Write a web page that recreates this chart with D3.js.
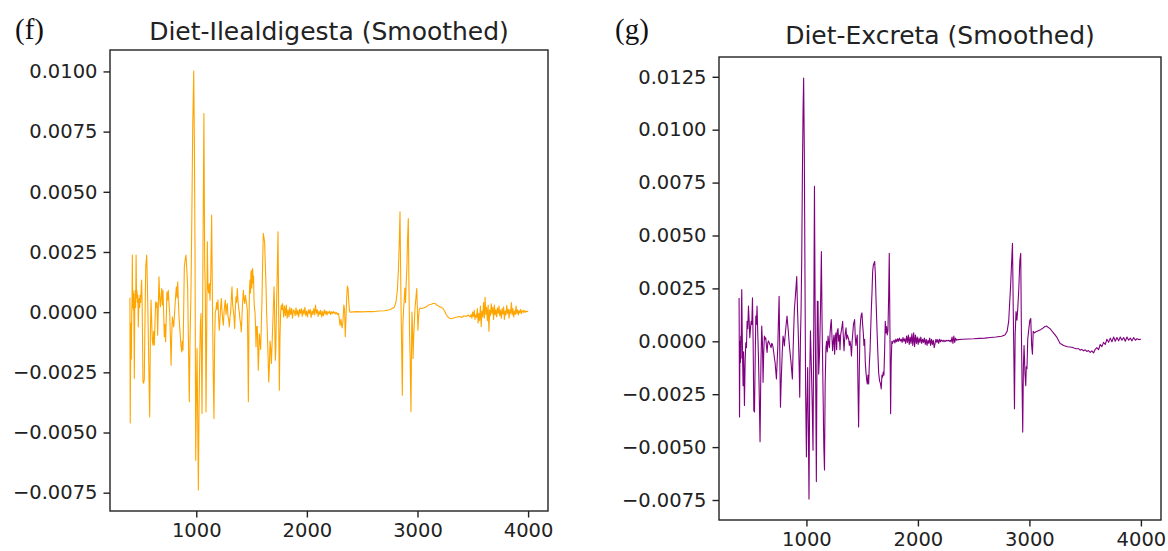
<!DOCTYPE html>
<html>
<head>
<meta charset="utf-8">
<script src="https://cdn.jsdelivr.net/npm/d3@7"></script>
<style>
  html, body { margin: 0; padding: 0; background: #fff; }
  svg { display: block; }
  .tick text { font-family: "DejaVu Sans", sans-serif; fill: #222; }
</style>
</head>
<body>
<svg id="fig" width="1168" height="551"></svg>
<script>
// Smoothed difference spectra (wavenumber in cm^-1, signal in absorbance units)
const ilealWavenumber = [
  400, 403, 407, 410, 413, 416, 419, 422, 425, 428, 431, 434, 437, 440, 444, 448, 452, 456, 460, 464,
  468, 472, 476, 480, 484, 488, 492, 497, 502, 506, 510, 514, 518, 524, 530, 536, 543, 552, 561, 570,
  579, 585, 591, 597, 603, 609, 615, 621, 627, 633, 639, 645, 651, 657, 663, 669, 675, 681, 687, 693,
  699, 705, 711, 717, 723, 729, 735, 741, 747, 753, 760, 766, 772, 778, 784, 790, 796, 802, 808, 814,
  820, 826, 832, 838, 844, 850, 856, 862, 868, 874, 880, 886, 892, 900, 907, 914, 922, 930, 937, 944,
  952, 960, 968, 977, 983, 989, 995, 1001, 1007, 1013, 1019, 1025, 1031, 1037, 1043, 1052, 1060, 1069, 1076, 1082,
  1088, 1094, 1100, 1106, 1112, 1118, 1124, 1131, 1139, 1146, 1153, 1160, 1166, 1172, 1178, 1184, 1190, 1196, 1202, 1208,
  1214, 1220, 1227, 1233, 1239, 1245, 1251, 1257, 1263, 1269, 1275, 1281, 1287, 1293, 1299, 1305, 1311, 1317, 1323, 1329,
  1335, 1341, 1347, 1353, 1359, 1365, 1371, 1377, 1383, 1389, 1395, 1401, 1407, 1413, 1419, 1426, 1432, 1438, 1444, 1450,
  1456, 1462, 1466, 1471, 1476, 1481, 1486, 1490, 1494, 1498, 1502, 1506, 1510, 1514, 1518, 1522, 1526, 1531, 1536, 1540,
  1546, 1552, 1556, 1561, 1565, 1570, 1576, 1582, 1588, 1594, 1600, 1606, 1612, 1618, 1624, 1630, 1636, 1643, 1649, 1655,
  1661, 1667, 1673, 1679, 1685, 1691, 1697, 1703, 1707, 1711, 1715, 1719, 1723, 1727, 1733, 1739, 1745, 1751, 1757, 1763,
  1769, 1775, 1781, 1790, 1798, 1806, 1814, 1822, 1830, 1838, 1846, 1854, 1862, 1870, 1878, 1886, 1894, 1902, 1910, 1918,
  1926, 1934, 1942, 1950, 1958, 1966, 1974, 1982, 1990, 1998, 2006, 2014, 2022, 2030, 2038, 2046, 2054, 2062, 2070, 2078,
  2086, 2094, 2102, 2110, 2118, 2126, 2134, 2142, 2150, 2158, 2166, 2174, 2182, 2190, 2198, 2206, 2214, 2222, 2230, 2238,
  2246, 2254, 2262, 2270, 2278, 2286, 2294, 2300, 2308, 2318, 2326, 2334, 2341, 2347, 2354, 2360, 2366, 2372, 2378, 2384,
  2390, 2396, 2450, 2500, 2550, 2600, 2650, 2700, 2750, 2790, 2805, 2818, 2828, 2836, 2842, 2847, 2852, 2857, 2863, 2868,
  2874, 2880, 2886, 2892, 2898, 2904, 2910, 2917, 2922, 2928, 2934, 2941, 2946, 2950, 2955, 2960, 2966, 2972, 2978, 2986,
  2993, 2998, 3004, 3010, 3016, 3024, 3040, 3060, 3080, 3100, 3120, 3140, 3158, 3170, 3185, 3200, 3215, 3230, 3245, 3260,
  3275, 3290, 3305, 3320, 3340, 3360, 3380, 3400, 3420, 3440, 3460, 3475, 3485, 3492, 3499, 3506, 3513, 3520, 3527, 3534,
  3541, 3548, 3555, 3562, 3569, 3576, 3583, 3590, 3597, 3604, 3611, 3618, 3625, 3632, 3639, 3646, 3653, 3660, 3667, 3674,
  3681, 3688, 3695, 3702, 3709, 3716, 3723, 3730, 3737, 3744, 3751, 3758, 3765, 3772, 3779, 3786, 3793, 3800, 3807, 3814,
  3821, 3828, 3835, 3842, 3849, 3856, 3863, 3870, 3877, 3884, 3891, 3898, 3905, 3912, 3919, 3926, 3933, 3940, 3947, 3954,
  3961, 3968, 3975, 3982, 3990, 4000
];
const ilealSignal = [
  0.00060, -0.00460, -0.00120, -0.00045, -0.00195, -0.00020, 0.00040, 0.00237, 0.00020, 0.00090, 0.00010, 0.00078, -0.00080, -0.00275, 0.00030, 0.00090, 0.00020, 0.00237, 0.00060, 0.00090,
  0.00040, 0.00070, -0.00061, 0.00030, 0.00057, 0.00020, 0.00070, 0.00040, 0.00100, 0.00133, 0.00050, -0.00100, -0.00289, -0.00295, -0.00280, -0.00050, 0.00188, 0.00237, 0.00050, -0.00200,
  -0.00435, -0.00100, 0.00050, -0.00040, -0.00120, -0.00137, -0.00080, -0.00137, -0.00040, 0.00043, 0.00020, 0.00040, -0.00096, 0.00030, 0.00147, 0.00060, 0.00022, 0.00060, 0.00098, 0.00030,
  0.00091, 0.00000, -0.00102, -0.00050, -0.00123, -0.00020, 0.00084, 0.00050, 0.00091, 0.00040, -0.00006, -0.00100, -0.00220, -0.00100, -0.00019, -0.00040, -0.00061, -0.00020, 0.00029, 0.00070,
  0.00105, 0.00060, 0.00126, 0.00050, -0.00019, -0.00060, -0.00100, -0.00140, -0.00165, -0.00120, -0.00158, 0.00000, 0.00188, 0.00220, 0.00237, 0.00180, 0.00105, -0.00150, -0.00372, -0.00100,
  0.00078, 0.00400, 0.00770, 0.01002, 0.00700, 0.00216, -0.00615, -0.00350, -0.00151, -0.00450, -0.00739, -0.00400, -0.00199, -0.00050, -0.00006, -0.00421, 0.00200, 0.00825, 0.00200, 0.00080,
  -0.00414, -0.00100, 0.00292, 0.00100, 0.00080, 0.00119, 0.00050, 0.00150, 0.00403, 0.00050, -0.00250, -0.00442, -0.00120, 0.00000, 0.00008, 0.00040, 0.00012, 0.00050, -0.00020, -0.00075,
  -0.00030, 0.00020, 0.00057, 0.00000, -0.00030, -0.00054, 0.00000, 0.00030, 0.00050, -0.00010, 0.00020, 0.00036, -0.00020, -0.00030, -0.00061, -0.00020, 0.00000, 0.00060, 0.00105, 0.00030,
  0.00008, -0.00020, -0.00068, 0.00010, 0.00064, 0.00040, 0.00098, 0.00050, 0.00020, 0.00000, -0.00030, -0.00050, -0.00082, -0.00020, 0.00040, 0.00091, 0.00050, 0.00036, 0.00070, 0.00050,
  0.00030, 0.00008, -0.00150, -0.00372, -0.00050, 0.00090, 0.00133, 0.00080, 0.00160, 0.00174, 0.00100, 0.00160, 0.00181, 0.00120, 0.00150, 0.00050, 0.00020, 0.00000, -0.00060, -0.00144,
  -0.00060, -0.00060, -0.00150, -0.00241, -0.00180, -0.00090, -0.00120, -0.00155, -0.00060, 0.00050, 0.00200, 0.00327, 0.00310, 0.00290, 0.00200, 0.00119, 0.00000, -0.00090, -0.00180, -0.00290,
  -0.00230, -0.00120, -0.00150, -0.00213, -0.00140, -0.00060, 0.00020, 0.00105, 0.00040, -0.00100, -0.00200, -0.00160, -0.00040, 0.00050, 0.00180, 0.00334, 0.00000, -0.00324, -0.00100, 0.00000,
  0.00030, 0.00010, 0.00036, -0.00020, 0.00025, -0.00015, 0.00030, -0.00025, 0.00010, -0.00020, 0.00020, -0.00010, 0.00015, -0.00025, 0.00010, 0.00005, -0.00015, 0.00018, -0.00012, 0.00008,
  -0.00020, 0.00012, -0.00005, 0.00015, -0.00018, 0.00010, -0.00008, 0.00020, -0.00015, 0.00005, -0.00020, 0.00010, -0.00005, 0.00012, -0.00022, 0.00005, -0.00010, 0.00015, -0.00012, 0.00030,
  -0.00005, 0.00010, -0.00018, 0.00005, -0.00010, 0.00008, -0.00020, 0.00002, -0.00015, 0.00010, -0.00008, 0.00005, -0.00012, 0.00002, -0.00005, 0.00004, -0.00010, 0.00002, -0.00006, 0.00003,
  -0.00005, 0.00000, -0.00008, -0.00002, -0.00010, -0.00005, -0.00030, -0.00055, -0.00030, -0.00066, -0.00040, 0.00030, 0.00010, -0.00102, -0.00020, 0.00060, 0.00108, 0.00100, 0.00050, 0.00010,
  0.00000, 0.00000, 0.00002, 0.00001, 0.00003, 0.00002, 0.00005, 0.00006, 0.00010, 0.00020, 0.00040, 0.00090, 0.00180, 0.00300, 0.00417, 0.00200, 0.00000, -0.00150, -0.00345, -0.00050,
  0.00010, 0.00050, 0.00100, 0.00040, 0.00120, 0.00180, 0.00300, 0.00389, 0.00150, -0.00080, -0.00200, -0.00414, -0.00150, 0.00000, -0.00060, -0.00192, -0.00100, -0.00040, 0.00020, 0.00060,
  0.00098, 0.00030, -0.00075, -0.00020, 0.00010, 0.00017, 0.00015, 0.00018, 0.00022, 0.00030, 0.00032, 0.00036, 0.00036, 0.00030, 0.00028, 0.00022, 0.00020, 0.00015, 0.00005, -0.00010,
  -0.00020, -0.00025, -0.00027, -0.00025, -0.00022, -0.00020, -0.00018, -0.00022, -0.00015, -0.00018, -0.00012, -0.00020, -0.00010, -0.00025, 0.00000, -0.00018, 0.00008, -0.00030, -0.00012, -0.00022,
  0.00015, -0.00045, -0.00005, -0.00035, 0.00025, -0.00060, 0.00005, -0.00020, 0.00040, -0.00025, 0.00062, -0.00010, 0.00020, -0.00035, 0.00030, -0.00079, 0.00010, -0.00015, 0.00035, -0.00005,
  0.00020, -0.00030, 0.00030, -0.00012, 0.00010, -0.00020, 0.00018, -0.00005, 0.00025, -0.00015, 0.00008, -0.00025, 0.00015, -0.00008, 0.00022, -0.00030, 0.00005, -0.00012, 0.00028, -0.00005,
  0.00012, -0.00025, 0.00010, -0.00005, 0.00040, -0.00012, 0.00015, -0.00020, 0.00005, -0.00010, 0.00025, -0.00005, 0.00010, -0.00012, 0.00006, -0.00003, 0.00012, -0.00006, 0.00004, 0.00008,
  -0.00002, 0.00006, 0.00000, 0.00004, 0.00002, 0.00005
];

const excretaWavenumber = [
  396, 400, 404, 408, 411, 414, 417, 420, 424, 428, 432, 436, 440, 444, 450, 456, 462, 468, 474, 480,
  486, 492, 498, 504, 510, 516, 522, 528, 534, 540, 546, 551, 557, 563, 569, 575, 584, 592, 599, 605,
  611, 617, 623, 629, 635, 641, 647, 653, 659, 665, 671, 677, 683, 689, 695, 701, 707, 713, 719, 725,
  731, 737, 743, 749, 755, 761, 767, 773, 778, 784, 790, 796, 802, 808, 814, 820, 826, 832, 838, 844,
  850, 856, 862, 868, 874, 880, 886, 892, 898, 906, 913, 920, 928, 934, 940, 946, 952, 958, 964, 970,
  975, 981, 987, 993, 1000, 1005, 1011, 1017, 1023, 1030, 1036, 1044, 1052, 1059, 1066, 1072, 1078, 1083, 1089, 1094,
  1098, 1104, 1110, 1118, 1126, 1134, 1140, 1148, 1156, 1162, 1168, 1175, 1181, 1187, 1194, 1200, 1206, 1212, 1218, 1223,
  1229, 1235, 1241, 1247, 1253, 1259, 1265, 1271, 1277, 1283, 1289, 1295, 1301, 1307, 1313, 1319, 1325, 1331, 1337, 1343,
  1349, 1355, 1361, 1367, 1373, 1379, 1385, 1391, 1397, 1404, 1410, 1416, 1422, 1432, 1438, 1444, 1450, 1456, 1462, 1468,
  1474, 1480, 1486, 1492, 1498, 1504, 1510, 1516, 1522, 1528, 1534, 1540, 1546, 1552, 1558, 1564, 1570, 1576, 1582, 1588,
  1594, 1600, 1612, 1618, 1624, 1632, 1640, 1648, 1656, 1664, 1671, 1677, 1683, 1689, 1695, 1701, 1707, 1713, 1719, 1725,
  1731, 1737, 1743, 1749, 1755, 1760, 1766, 1772, 1778, 1786, 1794, 1802, 1810, 1818, 1826, 1834, 1842, 1850, 1858, 1866,
  1874, 1882, 1890, 1898, 1906, 1914, 1922, 1930, 1938, 1946, 1954, 1962, 1970, 1978, 1986, 1994, 2002, 2010, 2018, 2026,
  2034, 2042, 2050, 2058, 2066, 2074, 2082, 2090, 2098, 2106, 2114, 2122, 2130, 2138, 2146, 2154, 2162, 2170, 2178, 2186,
  2194, 2202, 2210, 2218, 2226, 2234, 2242, 2250, 2258, 2266, 2274, 2282, 2290, 2298, 2306, 2314, 2322, 2330, 2338, 2346,
  2360, 2400, 2450, 2500, 2550, 2600, 2650, 2700, 2750, 2780, 2800, 2814, 2830, 2848, 2855, 2860, 2866, 2872, 2880, 2888,
  2896, 2905, 2914, 2922, 2928, 2934, 2940, 2946, 2952, 2960, 2967, 2972, 2978, 2985, 2995, 3004, 3012, 3020, 3027, 3034,
  3045, 3060, 3080, 3100, 3120, 3140, 3155, 3170, 3185, 3200, 3215, 3230, 3245, 3260, 3275, 3290, 3305, 3320, 3340, 3360,
  3380, 3400, 3420, 3440, 3455, 3470, 3485, 3500, 3515, 3530, 3545, 3560, 3575, 3590, 3605, 3620, 3635, 3650, 3665, 3680,
  3695, 3710, 3725, 3740, 3755, 3770, 3785, 3800, 3815, 3830, 3845, 3860, 3875, 3890, 3905, 3920, 3935, 3950, 3965, 3980,
  4000
];
const excretaSignal = [
  0.00205, -0.00358, 0.00000, -0.00100, 0.00025, -0.00080, 0.00150, 0.00244, 0.00050, -0.00100, -0.00210, -0.00050, -0.00150, -0.00303, -0.00100, -0.00007, -0.00030, 0.00095, 0.00060, 0.00166,
  0.00100, 0.00017, 0.00060, 0.00095, 0.00080, 0.00205, 0.00000, -0.00327, -0.00334, -0.00100, 0.00119, 0.00080, 0.00166, 0.00050, -0.00061, -0.00200, -0.00475, -0.00100, 0.00072, 0.00000,
  -0.00194, -0.00050, 0.00025, 0.00010, 0.00017, -0.00020, -0.00053, -0.00010, 0.00002, -0.00005, -0.00014, -0.00020, -0.00030, -0.00010, -0.00014, -0.00030, -0.00053, -0.00080, -0.00100, -0.00140,
  -0.00178, -0.00100, -0.00030, 0.00100, 0.00213, -0.00050, -0.00311, -0.00200, -0.00124, -0.00040, 0.00025, 0.00010, -0.00022, 0.00020, 0.00056, 0.00090, 0.00119, 0.00080, 0.00045, 0.00000,
  -0.00037, -0.00070, -0.00100, -0.00140, -0.00178, -0.00050, 0.00056, 0.00150, 0.00192, 0.00250, 0.00306, 0.00150, 0.00017, -0.00100, -0.00264, 0.00000, 0.00150, 0.00400, 0.00800, 0.01100,
  0.01244, 0.00900, 0.00300, -0.00250, -0.00546, -0.00300, -0.00124, -0.00400, -0.00745, -0.00150, 0.00050, -0.00117, -0.00300, -0.00515, 0.00100, 0.00732, 0.00150, -0.00200, -0.00663, -0.00150,
  0.00189, 0.00189, -0.00155, -0.00050, 0.00150, 0.00424, 0.00100, -0.00200, -0.00500, -0.00608, -0.00200, -0.00030, 0.00000, -0.00050, 0.00025, -0.00010, -0.00030, 0.00040, 0.00080, 0.00103,
  0.00020, -0.00045, 0.00000, 0.00030, -0.00061, 0.00020, 0.00040, -0.00040, 0.00050, 0.00060, 0.00000, 0.00030, -0.00040, 0.00030, 0.00050, 0.00070, 0.00094, 0.00020, -0.00045, 0.00010,
  0.00040, 0.00064, 0.00010, 0.00030, 0.00020, 0.00010, -0.00020, 0.00000, -0.00020, -0.00069, 0.00000, 0.00040, 0.00080, 0.00103, 0.00020, -0.00020, 0.00010, 0.00030, -0.00200, -0.00405,
  -0.00150, 0.00050, 0.00100, 0.00126, 0.00134, 0.00080, 0.00040, -0.00020, 0.00010, -0.00100, -0.00147, -0.00180, -0.00202, -0.00160, -0.00202, -0.00110, -0.00050, 0.00050, 0.00150, 0.00230,
  0.00330, 0.00360, 0.00377, 0.00320, 0.00200, 0.00070, -0.00050, -0.00150, -0.00187, -0.00200, -0.00225, -0.00160, -0.00170, -0.00145, -0.00160, -0.00050, 0.00094, 0.00040, 0.00070, 0.00030,
  0.00050, 0.00200, 0.00416, 0.00050, -0.00342, -0.00100, 0.00000, -0.00010, 0.00000, 0.00005, -0.00008, 0.00010, -0.00002, 0.00012, 0.00000, 0.00015, 0.00002, 0.00010, -0.00005, 0.00018,
  0.00000, 0.00012, -0.00010, 0.00025, -0.00005, 0.00030, -0.00015, 0.00020, -0.00010, 0.00035, -0.00020, 0.00040, -0.00025, 0.00030, -0.00010, 0.00020, -0.00015, 0.00015, -0.00005, 0.00020,
  -0.00010, 0.00010, -0.00005, 0.00015, -0.00015, 0.00010, -0.00020, 0.00005, -0.00010, 0.00015, -0.00020, 0.00010, -0.00015, 0.00005, -0.00030, -0.00010, 0.00010, -0.00005, 0.00008, -0.00010,
  0.00010, -0.00002, 0.00006, 0.00000, 0.00005, -0.00002, 0.00004, 0.00000, 0.00005, 0.00002, 0.00005, 0.00000, 0.00005, -0.00003, 0.00020, -0.00010, 0.00025, -0.00005, 0.00015, 0.00005,
  0.00008, 0.00010, 0.00011, 0.00012, 0.00014, 0.00015, 0.00018, 0.00020, 0.00024, 0.00030, 0.00047, 0.00094, 0.00250, 0.00463, 0.00150, -0.00050, -0.00319, 0.00030, 0.00141, 0.00100,
  0.00160, 0.00250, 0.00380, 0.00416, 0.00050, -0.00200, -0.00429, -0.00120, -0.00020, -0.00150, -0.00210, -0.00120, -0.00130, 0.00010, 0.00060, 0.00100, 0.00108, -0.00020, -0.00061, 0.00047,
  0.00040, 0.00045, 0.00050, 0.00055, 0.00062, 0.00070, 0.00072, 0.00065, 0.00060, 0.00050, 0.00040, 0.00030, 0.00020, 0.00005, -0.00010, -0.00014, -0.00020, -0.00022, -0.00026, -0.00027,
  -0.00028, -0.00032, -0.00035, -0.00035, -0.00042, -0.00038, -0.00045, -0.00040, -0.00048, -0.00044, -0.00052, -0.00045, -0.00055, -0.00038, -0.00030, -0.00040, -0.00015, -0.00025, -0.00005, -0.00015,
  0.00010, -0.00005, 0.00015, -0.00002, 0.00020, 0.00000, 0.00018, 0.00002, 0.00020, 0.00005, 0.00018, 0.00000, 0.00020, 0.00005, 0.00015, 0.00002, 0.00018, 0.00005, 0.00012, 0.00008,
  0.00010
];

// Axis tick values
const xTickValues = [1000, 2000, 3000, 4000];
const ilealYTicks = [-0.0075, -0.0050, -0.0025, 0.0000, 0.0025, 0.0050, 0.0075, 0.0100];
const excretaYTicks = [-0.0075, -0.0050, -0.0025, 0.0000, 0.0025, 0.0050, 0.0075, 0.0100, 0.0125];

const panels = [
  {
    letter: "(f)", title: "Diet-Ilealdigesta (Smoothed)",
    x: ilealWavenumber, y: ilealSignal, yTicks: ilealYTicks, color: "#FFA500",
    box: { left: 110, right: 548, top: 50, bottom: 511 },
    letterPos: [15, 39], titleY: 39.5
  },
  {
    letter: "(g)", title: "Diet-Excreta (Smoothed)",
    x: excretaWavenumber, y: excretaSignal, yTicks: excretaYTicks, color: "#800080",
    box: { left: 719, right: 1161, top: 57, bottom: 520 },
    letterPos: [615, 39], titleY: 43.5
  }
];

const svg = d3.select("#fig");
const fmt = v => (v < 0 ? "\u2212" : "") + Math.abs(v).toFixed(4);

// Pad the data extent by 5% on each side, like a default plotting margin
function padded(values) {
  const [lo, hi] = d3.extent(values);
  const m = (hi - lo) * 0.05;
  return [lo - m, hi + m];
}

panels.forEach(p => {
  const b = p.box;
  const xScale = d3.scaleLinear().domain(padded(p.x)).range([b.left, b.right]);
  const yScale = d3.scaleLinear().domain(padded(p.y)).range([b.bottom, b.top]);

  const g = svg.append("g");

  // panel letter
  g.append("text")
    .attr("x", p.letterPos[0]).attr("y", p.letterPos[1])
    .attr("font-family", "'Liberation Serif', 'Times New Roman', serif")
    .attr("font-size", 29).attr("fill", "#111")
    .text(p.letter);

  // title, centred over the axes box
  g.append("text")
    .attr("x", (b.left + b.right) / 2).attr("y", p.titleY)
    .attr("text-anchor", "middle")
    .attr("font-family", "'DejaVu Sans', sans-serif")
    .attr("font-size", 25).attr("fill", "#222")
    .text(p.title);

  // clip to the axes box
  const clipId = "clip-" + p.letter.replace(/[()]/g, "");
  svg.append("defs").append("clipPath").attr("id", clipId)
    .append("rect").attr("x", b.left).attr("y", b.top)
    .attr("width", b.right - b.left).attr("height", b.bottom - b.top);

  const pts = p.x.map((w, i) => [w, p.y[i]]);
  const line = d3.line().x(d => xScale(d[0])).y(d => yScale(d[1]));
  g.append("path")
    .datum(pts)
    .attr("clip-path", `url(#${clipId})`)
    .attr("d", line)
    .attr("fill", "none")
    .attr("stroke", p.color)
    .attr("stroke-width", 1.1)
    .attr("stroke-linejoin", "round");

  // axes
  const xAxis = d3.axisBottom(xScale).tickValues(xTickValues).tickSize(6.5).tickPadding(6).tickFormat(d3.format("d"));
  const yAxis = d3.axisLeft(yScale).tickValues(p.yTicks).tickSize(6.5).tickPadding(6).tickFormat(fmt);

  const gx = g.append("g").attr("transform", `translate(0,${b.bottom})`).call(xAxis);
  const gy = g.append("g").attr("transform", `translate(${b.left},0)`).call(yAxis);
  [gx, gy].forEach(a => {
    a.select(".domain").remove();
    a.selectAll(".tick line").attr("stroke", "#222").attr("stroke-width", 1.4);
    a.selectAll(".tick text").attr("font-size", 19.5);
  });

  // frame
  g.append("rect")
    .attr("x", b.left).attr("y", b.top)
    .attr("width", b.right - b.left).attr("height", b.bottom - b.top)
    .attr("fill", "none").attr("stroke", "#222").attr("stroke-width", 1.4);
});
</script>
</body>
</html>
